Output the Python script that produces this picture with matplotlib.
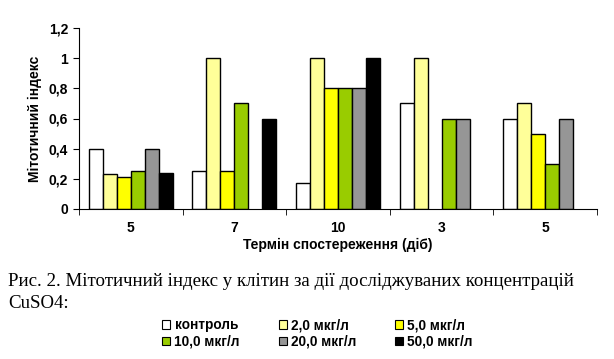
import numpy as np
import matplotlib.pyplot as plt
from matplotlib.patches import Patch

# days of observation (group labels)
groups = ["5", "7", "10", "3", "5"]

series_names = ["контроль", "2,0 мкг/л", "5,0 мкг/л", "10,0 мкг/л", "20,0 мкг/л", "50,0 мкг/л"]
series_colors = ["#FFFFFF", "#FFFF99", "#FFFF00", "#99CC00", "#969696", "#000000"]

# mitotic index, nan = no bar
kontrol = [0.40, 0.25, 0.17, 0.70, 0.60]
c2 = [0.23, 1.00, 1.00, 1.00, 0.70]
c5 = [0.21, 0.25, 0.80, np.nan, 0.50]
c10 = [0.25, 0.70, 0.80, 0.60, 0.30]
c20 = [0.40, np.nan, 0.80, 0.60, 0.60]
c50 = [0.24, 0.60, 1.00, np.nan, np.nan]

all_series = [kontrol, c2, c5, c10, c20, c50]

W, H = 614, 359
fig = plt.figure(figsize=(W / 100, H / 100), dpi=100)
ax = fig.add_axes([79 / W, (H - 209) / H, (597 - 79) / W, (209 - 28) / H])

x = np.arange(len(groups))
bw = 0.135
for i, (vals, col, name) in enumerate(zip(all_series, series_colors, series_names)):
    ax.bar(x - 2.5 * bw + i * bw, vals, width=bw, color=col,
           edgecolor="black", linewidth=1.0, label=name)

ax.set_xlim(-0.5, len(groups) - 0.5)
ax.set_ylim(0, 1.2)
for s in ["top", "right"]:
    ax.spines[s].set_visible(False)

lab_font = dict(family="Liberation Sans", weight="bold", size=10)

ax.set_xticks(x)
ax.set_xticklabels(groups, fontdict=lab_font)
ax.tick_params(axis="x", which="major", length=0, pad=9)
ax.set_xticks(np.arange(-0.5, len(groups)), minor=True)
ax.tick_params(axis="x", which="minor", length=4, direction="out")

yt = [0, 0.2, 0.4, 0.6, 0.8, 1.0, 1.2]
ax.set_yticks(yt)
ax.set_yticklabels(["0", "0,2", "0,4", "0,6", "0,8", "1", "1,2"], fontdict=lab_font)
ax.tick_params(axis="y", length=4, direction="out", pad=4)

ax.set_xlabel("Термін спостереження (діб)", fontdict=dict(family="Liberation Sans", weight="bold", size=10), labelpad=2)
ax.set_ylabel("Мітотичний індекс", fontdict=dict(family="Liberation Sans", weight="bold", size=10), labelpad=5)

# caption
cap = dict(family="Liberation Serif", size=13.6)
fig.text(8 / W, 1 - 286 / H, "Рис. 2. Мітотичний індекс у клітин за дії досліджуваних концентрацій", **cap)
fig.text(8 / W, 1 - 308 / H, "CuSO4:", **cap)

# legend, filled row by row like the original
handles = [Patch(facecolor=c, edgecolor="black", linewidth=0.8) for c in series_colors]
order = [0, 3, 1, 4, 2, 5]
fig.legend([handles[k] for k in order], [series_names[k] for k in order],
           ncol=3, loc="upper left", bbox_to_anchor=(150 / W, 1 - 306 / H),
           frameon=False, handlelength=0.6, handleheight=0.6, handletextpad=0.3,
           columnspacing=2.85, labelspacing=0.2,
           prop=dict(family="Liberation Sans", weight="bold", size=9.8))

fig.savefig("out.png", dpi=100)
